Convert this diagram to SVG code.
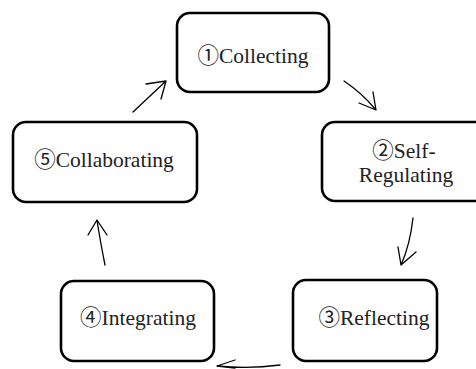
<svg xmlns="http://www.w3.org/2000/svg" width="476" height="369" viewBox="0 0 476 369">
<style>
.box{fill:#fff;stroke:#000;stroke-width:2.6}
.lbl{font-family:"Liberation Serif","Noto Sans CJK JP",serif;font-size:21.5px;fill:#222;text-anchor:middle}
.arr{fill:none;stroke:#000;stroke-width:1.3;stroke-linecap:round;stroke-linejoin:round}
</style>
<rect width="476" height="369" fill="#fff"/>
<g id="connectors">
<path class="arr" d="M344,81 Q362,93 376,110 M373,92 L376,110 L359,103"/>
<path class="arr" d="M413,218 Q410,245 401,265 M398,247 L401,265 L416,252"/>
<path class="arr" d="M280,365 Q250,369 217,366 M235,360 L217,366 L235,368"/>
<path class="arr" d="M105,265 Q100,240 97,220 M88,235 L97,220 L107,235"/>
<path class="arr" d="M133,112 L166,81 M146,84 L166,81 L161,99"/>
</g>
<g id="n1">
<rect class="box" x="177" y="13" width="152" height="79" rx="13"/>
<text class="lbl" x="253" y="63">①Collecting</text>
</g>
<g id="n2">
<rect class="box" x="322" y="122" width="168" height="79" rx="13"/>
<text class="lbl" x="404" y="158">②Self-</text>
<text class="lbl" x="406" y="182">Regulating</text>
</g>
<g id="n3">
<rect class="box" x="293" y="280" width="144" height="81" rx="13"/>
<text class="lbl" x="374" y="325">③Reflecting</text>
</g>
<g id="n4">
<rect class="box" x="61" y="281" width="153" height="80" rx="13"/>
<text class="lbl" x="138" y="325">④Integrating</text>
</g>
<g id="n5">
<rect class="box" x="13" y="122" width="184" height="80" rx="13"/>
<text class="lbl" x="104" y="167">⑤Collaborating</text>
</g>
</svg>
